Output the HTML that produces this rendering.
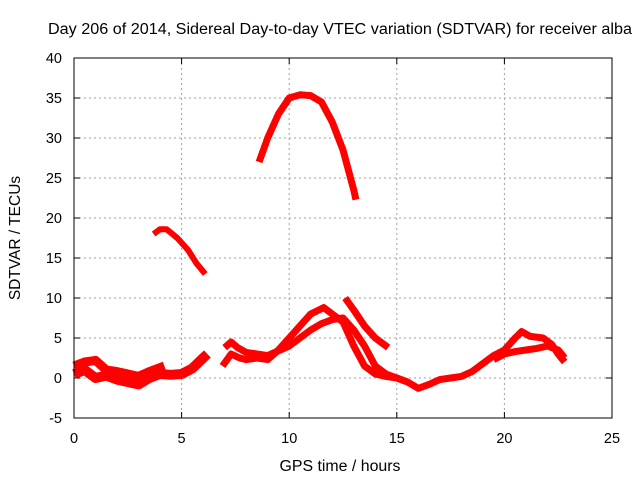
<!DOCTYPE html>
<html><head><meta charset="utf-8"><style>
body{margin:0;background:#fff;}
svg{display:block;font-family:"Liberation Sans",sans-serif;}
</style></head><body>
<svg id="chart" width="640" height="480" xmlns="http://www.w3.org/2000/svg">
<text x="340" y="34" font-size="15.5" text-anchor="middle" textLength="584" lengthAdjust="spacingAndGlyphs">Day 206 of 2014, Sidereal Day-to-day VTEC variation (SDTVAR) for receiver alba</text>
<text x="340" y="471" font-size="15.5" text-anchor="middle" textLength="121" lengthAdjust="spacingAndGlyphs">GPS time / hours</text>
<text transform="translate(20,238) rotate(-90)" font-size="15.5" text-anchor="middle">SDTVAR / TECUs</text>
<g id="grid"></g><g id="ticks"></g><g id="series"></g>
<rect x="74" y="58" width="538" height="360" fill="none" stroke="#000" stroke-width="1"/>
</svg>
<script>
const xTicks=[0,5,10,15,20,25];
const yTicks=[-5,0,5,10,15,20,25,30,35,40];
const seriesTop=[[8.6,27],[9,30],[9.5,33],[10,35],[10.5,35.4],[11,35.3],[11.5,34.5],[12,32],[12.5,28.5],[13,23.5],[13.1,22.3]];
const seriesMid=[[3.7,18],[4,18.6],[4.3,18.6],[4.8,17.5],[5.3,16],[5.7,14.3],[6.1,13]];
const seriesC=[[0,1.5],[0.5,2],[1,2.2],[1.5,1],[2,0.8],[2.5,0.5],[3,0.2],[3.5,0.8],[4,1.3],[4.2,1.5]];
const seriesD=[[0,0.5],[0.5,1],[1,0],[1.5,0.3],[2,-0.2],[2.5,-0.5],[3,-0.8],[3.5,0],[4,0.5],[4.5,0.4],[5,0.5],[5.5,1.2],[6,2.5],[6.2,3]];
const seriesE1=[[6.9,1.5],[7.3,3],[7.7,2.5],[8,2.3],[8.5,2.5],[9,2.3],[9.5,3.5],[10,5],[10.5,6.5],[11,8],[11.6,8.8],[12,8],[12.5,7],[13,4],[13.5,1.5],[14,0.5],[14.5,0.2],[15,0],[15.5,-0.5],[16,-1.3],[16.5,-0.8],[17,-0.2],[17.5,0],[18,0.2],[18.5,0.8],[19,1.8],[19.5,2.8],[20,3.5],[20.5,5],[20.8,5.8],[21.2,5.2],[21.8,5],[22.2,4.2],[22.5,3],[22.8,2]];
const seriesE2=[[7,3.8],[7.3,4.5],[7.6,3.8],[8,3.2],[9,2.8],[10,4],[11,6],[11.5,6.8],[12,7.3],[12.5,7.5],[13,6],[13.5,4],[14,1.5],[14.5,0.5],[15,0],[15.5,-0.5]];
const seriesE3=[[19.5,2.3],[20,3],[20.5,3.3],[21,3.5],[21.5,3.7],[22,4],[22.5,3.5],[22.8,2.5]];
const seriesF=[[12.6,10],[13,8.5],[13.5,6.5],[14,5],[14.6,3.8]];
const NS="http://www.w3.org/2000/svg";
function xs(v){return 74+v*538/25;}
function ys(v){return 378-v*8;}
const grid=document.getElementById('grid'),ticks=document.getElementById('ticks'),ser=document.getElementById('series');
function mk(t,a,p){const e=document.createElementNS(NS,t);for(const k in a)e.setAttribute(k,a[k]);p.appendChild(e);return e;}
xTicks.forEach(v=>{
 const x=xs(v);
 if(v>0&&v<25){const g=mk('line',{x1:x,x2:x,y1:58,y2:418,stroke:'#a0a0a0','stroke-dasharray':'2,3'},grid);
 
 }
 const t=mk('line',{x1:x,x2:x,y1:418,y2:412,stroke:'#000'},ticks);
 
 
 const t2=mk('line',{x1:x,x2:x,y1:58,y2:64,stroke:'#000'},ticks);
 
 
 const l=mk('text',{x:x,y:443,'font-size':14.5,'text-anchor':'middle'},ticks);l.textContent=v;
 
 
});
yTicks.forEach(v=>{
 const y=ys(v);
 if(v>-5&&v<40){const g=mk('line',{x1:74,x2:612,y1:y,y2:y,stroke:'#a0a0a0','stroke-dasharray':'2,3'},grid);
 
 }
 const t=mk('line',{x1:74,x2:80,y1:y,y2:y,stroke:'#000'},ticks);
 
 
 const t2=mk('line',{x1:606,x2:612,y1:y,y2:y,stroke:'#000'},ticks);
 
 
 const l=mk('text',{x:62,y:y+5,'font-size':14.5,'text-anchor':'end'},ticks);l.textContent=v;
 
 
});
[[seriesTop,7,'series-top-arc'],[seriesMid,6,'series-mid-arc'],[seriesC,9,'series-c'],[seriesD,10,'series-d'],[seriesE1,7,'series-e1'],[seriesE2,7,'series-e2'],[seriesE3,7,'series-e3'],[seriesF,7,'series-f']].forEach(([d,w,n])=>{
 const p=mk('polyline',{points:d.map(q=>xs(q[0])+','+ys(q[1])).join(' '),fill:'none',stroke:'#ff0000','stroke-width':w,'stroke-linejoin':'round','stroke-linecap':'butt'},ser);
 
 
});
</script>
</body></html>
